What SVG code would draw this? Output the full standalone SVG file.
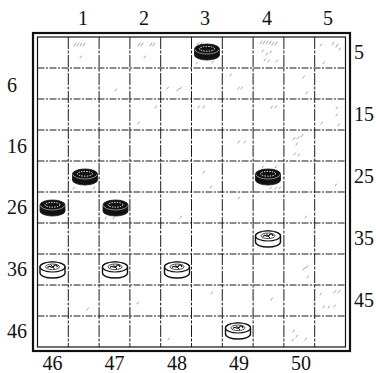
<svg xmlns="http://www.w3.org/2000/svg" width="376" height="373" viewBox="0 0 376 373">
<style>
.lbl{font-family:"Liberation Serif","Times New Roman",serif;font-size:20px;fill:#111}
.grid{stroke:#1a1a1a;stroke-width:1;fill:none}
.vgrid{stroke-dasharray:12 1.5 3 1.5}
.hgrid{stroke-dasharray:7 1.5 2 1.5}
.hatch{stroke:#8a8a8a;stroke-width:0.8;fill:none;stroke-linecap:round}
</style>
<defs>
<g id="blackPiece">
<path d="M-12.5,-3 A12.5,5 0 0 1 12.5,-3 L12.5,3 A12.5,5 0 0 1 -12.5,3 Z" fill="#111" stroke="#111" stroke-width="0.8"/>
<path d="M-12,-2.6 A12,4.6 0 0 0 12,-2.6" fill="none" stroke="#fff" stroke-width="0.5"/>
<ellipse cx="0" cy="-3.2" rx="7.5" ry="2.4" fill="none" stroke="#fff" stroke-width="1" stroke-dasharray="1.3 1.3"/>
</g>
<g id="whitePiece">
<path d="M-12.5,-3 A12.5,5 0 0 1 12.5,-3 L12.5,3 A12.5,5 0 0 1 -12.5,3 Z" fill="#fff" stroke="#111" stroke-width="1.4"/>
<ellipse cx="0" cy="-3" rx="12.5" ry="5" fill="#fff" stroke="#111" stroke-width="1.2"/>
<ellipse cx="0" cy="-3.2" rx="7" ry="2.8" fill="none" stroke="#222" stroke-width="0.8"/>
<path d="M-5,-2.5 C-3,-6 -1,-1 1,-3.5 S4,-5.5 5,-3" fill="none" stroke="#111" stroke-width="1.3"/>
<path d="M-2,-5.5 L2,-1" fill="none" stroke="#111" stroke-width="1"/>
</g>
</defs>
<rect width="376" height="373" fill="#fff"/>
<g id="board">
<rect x="33" y="33" width="317" height="318" fill="none" stroke="#111" stroke-width="2.2"/>
<rect x="37.5" y="37" width="308" height="310" fill="none" stroke="#111" stroke-width="1.2"/>
</g>
<g id="grid" class="grid">
<path class="vgrid" d="M68.3,37V347M99.1,37V347M129.9,37V347M160.7,37V347M191.5,37V347M222.3,37V347M253.1,37V347M283.9,37V347M314.7,37V347"/>
<path class="hgrid" d="M37.5,68H345.5M37.5,99H345.5M37.5,130H345.5M37.5,161H345.5M37.5,192H345.5M37.5,223H345.5M37.5,254H345.5M37.5,285H345.5M37.5,316H345.5"/>
</g>
<g id="hatching" class="hatch">
<path d="M74,46l2,-3M77,46l2,-3M80,46l2,-3M83,46l2,-3M80,58l1.5,-2M138,46l2,-3M141,46l2,-3M150,46l2,-3M153,46l2,-3M144,58l1.5,-2
M197,45l2,-2.5M200,45l2,-2.5M196,64l1.5,-2M212,63l1.5,-2
M260,44l2,-3M263,44l2,-3M266,44l2,-3M269,44l2,-3M272,45l2,-3M275,45l2,-3M262,52l1.5,-2M266,55l1.5,-2M270,53l1.5,-2M264,61l1.5,-2M268,62l1.5,-2M276,62l1.5,-2
M320,46l1.5,-2M332,45l2,-3M336,47l2,-3M339,50l1.5,-2M323,64l1.5,-2
M115,91l1.5,-2M167,89l1.5,-2M177,91l2,-2.5M180,89l1.5,-2M230,76l1.5,-2M238,89l1.5,-2M241,89l1.5,-2M303,78l1.5,-2M306,94l1.5,-2
M155,108l1.5,-2M138,124l1.5,-2M198,108l1.5,-2M203,108l1.5,-2M271,108l1.5,-2M275,108l1.5,-2M336,109l1.5,-2M336,116l1.5,-2M321,124l1.5,-2M338,126l1.5,-2
M238,143l1.5,-2M244,143l1.5,-2M293,140l2,-2.5M297,139l2,-2.5M301,137l2,-2.5M296,145l1.5,-2M294,155l1.5,-2M298,156l1.5,-2
M73,189l1.5,-2M93,189l1.5,-2M203,173l1.5,-2M210,188l1.5,-2M262,168l1.5,-2M275,168l1.5,-2M270,189l1.5,-2M275,189l1.5,-2M279,189l1.5,-2M335,186l1.5,-2
M105,219l1.5,-2M113,219l1.5,-2M180,218l1.5,-2M238,199l1.5,-2M305,218l1.5,-2
M303,270l2,-2.5M306,268l2,-2.5M307,278l1.5,-2
M87,310l1.5,-2M137,304l1.5,-2M211,294l1.5,-2M271,300l1.5,-2M320,295l1.5,-2M334,293l2,-2.5M338,293l2,-2.5M323,308l1.5,-2M328,308l1.5,-2M334,307l1.5,-2
M168,340l1.5,-2M293,332l1.5,-2M296,337l1.5,-2M292,341l1.5,-2M305,340l1.5,-2"/>
</g>
<g id="labels" class="lbl">
<text x="83" y="25" text-anchor="middle">1</text>
<text x="144" y="25" text-anchor="middle">2</text>
<text x="205" y="25" text-anchor="middle">3</text>
<text x="267" y="25" text-anchor="middle">4</text>
<text x="328" y="25" text-anchor="middle">5</text>
<text x="7" y="91.5">6</text>
<text x="7" y="152.5">16</text>
<text x="7" y="214">26</text>
<text x="7" y="276">36</text>
<text x="7" y="338">46</text>
<text x="354" y="59">5</text>
<text x="354" y="121">15</text>
<text x="354" y="183">25</text>
<text x="354" y="245">35</text>
<text x="354" y="307">45</text>
<text x="52.5" y="370" text-anchor="middle">46</text>
<text x="114.5" y="370" text-anchor="middle">47</text>
<text x="177" y="370" text-anchor="middle">48</text>
<text x="239" y="370" text-anchor="middle">49</text>
<text x="301" y="370" text-anchor="middle">50</text>
</g>
<g id="pieces">
<g id="b3"><use href="#blackPiece" transform="translate(207,52)"/></g>
<g id="b21"><use href="#blackPiece" transform="translate(85,177)"/></g>
<g id="b24"><use href="#blackPiece" transform="translate(268,177)"/></g>
<g id="b26"><use href="#blackPiece" transform="translate(52.5,208)"/></g>
<g id="b27"><use href="#blackPiece" transform="translate(115.5,208)"/></g>
<g id="w34"><use href="#whitePiece" transform="translate(268,239)"/></g>
<g id="w36"><use href="#whitePiece" transform="translate(52.5,270)"/></g>
<g id="w37"><use href="#whitePiece" transform="translate(115,270)"/></g>
<g id="w38"><use href="#whitePiece" transform="translate(177,270)"/></g>
<g id="w49"><use href="#whitePiece" transform="translate(238,331)"/></g>
</g>
</svg>
